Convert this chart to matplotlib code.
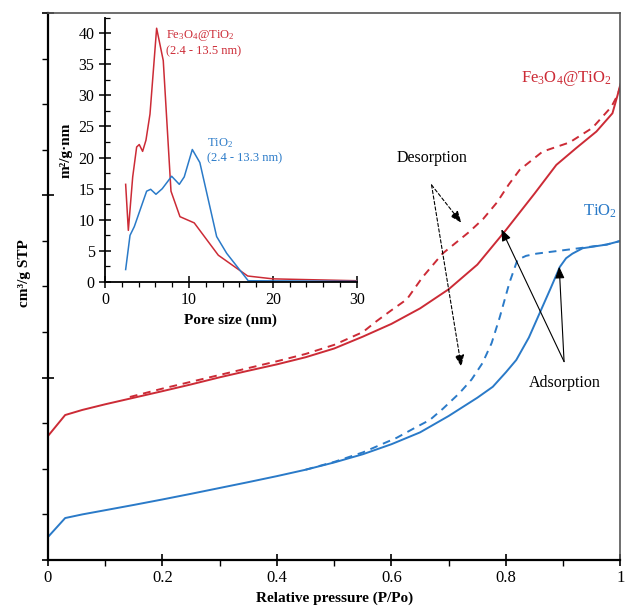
import matplotlib
matplotlib.use('Agg')
import matplotlib.pyplot as plt
from matplotlib.ticker import MultipleLocator

plt.rcParams['font.family'] = ['Liberation Serif', 'DejaVu Serif']
plt.rcParams['mathtext.fontset'] = 'custom'
plt.rcParams['mathtext.rm'] = 'Liberation Serif'
plt.rcParams['mathtext.it'] = 'Liberation Serif:italic'
plt.rcParams['mathtext.bf'] = 'Liberation Serif:bold'
plt.rcParams['mathtext.default'] = 'regular'

RED = '#cc2b36'
BLUE = '#2a7ac8'

# isotherms (relative pressure, volume in arbitrary units)
fe_ads_x = [0.0, 0.0, 0.03, 0.06, 0.1, 0.15, 0.2, 0.25, 0.3, 0.35, 0.4, 0.45, 0.5,
            0.55, 0.6, 0.65, 0.7, 0.75, 0.8, 0.85, 0.888, 0.923, 0.958, 0.986, 0.995, 1.0]
fe_ads_y = [51, 68, 79.5, 82.3, 85.4, 89.0, 92.6, 96.3, 100.2, 103.8, 107.3, 111.2, 116,
            122.5, 129.5, 138, 148.5, 162, 181, 201, 216.7, 226, 235, 245, 255, 261]
fe_des_x = [0.143, 0.2, 0.3, 0.4, 0.45, 0.5, 0.55, 0.574, 0.6, 0.627, 0.654, 0.689,
            0.736, 0.76, 0.784, 0.805, 0.824, 0.864, 0.911, 0.951, 0.984, 0.995, 1.0]
fe_des_y = [89.4, 94, 101.5, 109, 113, 118, 125, 131, 137, 143, 155, 168,
            180, 187, 196, 206, 214, 224, 229, 237, 248.5, 255, 260]

ti_ads_x = [0.0, 0.0, 0.03, 0.06, 0.1, 0.15, 0.2, 0.25, 0.3, 0.35, 0.4, 0.45, 0.5,
            0.55, 0.6, 0.65, 0.7, 0.75, 0.777, 0.8, 0.818, 0.84, 0.859, 0.878, 0.894,
            0.905, 0.916, 0.934, 0.976, 1.0]
ti_ads_y = [0, 12.6, 23, 25, 27.3, 30.2, 33.2, 36.3, 39.5, 42.7, 46, 49.5, 53.5,
            58, 63.5, 70, 79, 89, 95, 103, 109.7, 122, 135.5, 149, 160.7,
            165.5, 168, 171, 173, 175]
ti_des_x = [0.45, 0.5, 0.55, 0.609, 0.644, 0.667, 0.69, 0.719, 0.74, 0.759, 0.775,
            0.789, 0.806, 0.82, 0.835, 0.853, 0.928, 0.976, 1.0]
ti_des_y = [49.5, 53.8, 59, 67, 73, 76.8, 83, 91.6, 99, 108, 119,
            133, 152, 164.6, 166.8, 168, 171, 173, 175]

# pore size distribution
fe_pore_x = [2.46, 2.78, 3.3, 3.77, 4.08, 4.48, 4.88, 5.36, 6.15, 6.94, 7.86,
             8.93, 10.63, 13.5, 17.0, 20.0, 30.0]
fe_pore_y = [15.7, 8.3, 16.9, 21.7, 22.1, 21.0, 22.8, 27.0, 40.8, 35.6, 14.6,
             10.5, 9.5, 4.3, 0.96, 0.5, 0.2]
ti_pore_x = [2.46, 2.98, 3.49, 4.96, 5.44, 6.07, 6.82, 7.94, 8.85, 9.44, 10.4,
             11.3, 13.3, 14.5, 17.06, 30.0]
ti_pore_y = [2.0, 7.5, 8.9, 14.6, 14.9, 14.1, 15.0, 17.0, 15.7, 16.9, 21.3,
             19.2, 7.3, 4.6, 0.2, 0.1]

fig = plt.figure(figsize=(6.28, 6.11), dpi=100)
ax = fig.add_axes([0.0764, 0.0835, 0.9116, 0.8952])

ax.plot(fe_ads_x, fe_ads_y, color=RED, lw=1.4)
ax.plot(fe_des_x, fe_des_y, color=RED, lw=1.4, ls=(0, (4, 3)))
ax.plot(ti_ads_x, ti_ads_y, color=BLUE, lw=1.4)
ax.plot(ti_des_x, ti_des_y, color=BLUE, lw=1.4, ls=(0, (4, 3)))

ax.set_xlim(0, 1)
ax.set_ylim(0, 300)
ax.xaxis.set_minor_locator(MultipleLocator(0.1))
ax.yaxis.set_major_locator(MultipleLocator(100))
ax.yaxis.set_minor_locator(MultipleLocator(25))
ax.set_xticks([0, 0.2, 0.4, 0.6, 0.8, 1.0])
ax.set_xticklabels(['0', '0.2', '0.4', '0.6', '0.8', '1'])
ax.set_yticklabels([])
ax.tick_params(which='major', direction='inout', length=8, width=1.2, labelsize=12)
ax.tick_params(which='minor', direction='out', length=4, width=1)
for s in ['left', 'bottom']:
    ax.spines[s].set_linewidth(1.6)
for s in ['top', 'right']:
    ax.spines[s].set_color('#555555')
    ax.spines[s].set_linewidth(1.2)
ax.set_xlabel('Relative pressure (P/Po)', fontsize=11, fontweight='bold', labelpad=4)
ax.set_ylabel('cm³/g STP', fontsize=11, fontweight='bold')
ax.yaxis.set_label_coords(-0.03, 0.525)

ax.text(0.906, 264, r'Fe$_3$O$_4$@TiO$_2$', color=RED, fontsize=12, ha='center', va='center')
ax.text(0.964, 191, r'TiO$_2$', color=BLUE, fontsize=12, ha='center', va='center')
ax.text(0.670, 220.5, 'Desorption', fontsize=11.5, ha='center', va='center')
ax.text(0.903, 97.1, 'Adsorption', fontsize=11.5, ha='center', va='center')

dash_arrow = dict(arrowstyle='-|>,head_length=0.7,head_width=0.28', color='black',
                  lw=0.8, ls=(0, (3, 2)), shrinkA=0, shrinkB=0)
ax.annotate('', xy=(0.722, 185), xytext=(0.670, 205.7), arrowprops=dash_arrow)
ax.annotate('', xy=(0.722, 106), xytext=(0.670, 205.7), arrowprops=dash_arrow)
solid_arrow = dict(arrowstyle='-|>,head_length=0.7,head_width=0.28', color='black',
                   lw=0.8, shrinkA=0, shrinkB=0)
ax.annotate('', xy=(0.792, 181.4), xytext=(0.9015, 108.8), arrowprops=solid_arrow)
ax.annotate('', xy=(0.893, 160.9), xytext=(0.9015, 108.8), arrowprops=solid_arrow)

# inset
ins = fig.add_axes([0.1672, 0.5385, 0.401, 0.4326])
ins.plot(fe_pore_x, fe_pore_y, color=RED, lw=1.1)
ins.plot(ti_pore_x, ti_pore_y, color=BLUE, lw=1.1)
ins.set_xlim(0, 30)
ins.set_ylim(0, 42.5)
ins.xaxis.set_major_locator(MultipleLocator(10))
ins.xaxis.set_minor_locator(MultipleLocator(2))
ins.yaxis.set_major_locator(MultipleLocator(5))
ins.yaxis.set_minor_locator(MultipleLocator(2.5))
ins.tick_params(which='major', direction='inout', length=8, width=1.1, labelsize=11.5)
ins.tick_params(which='minor', length=3.5, width=0.9)
ins.tick_params(axis='x', which='minor', direction='out')
ins.tick_params(axis='y', which='minor', direction='in')
ins.spines['top'].set_visible(False)
ins.spines['right'].set_visible(False)
ins.spines['left'].set_linewidth(1.3)
ins.spines['bottom'].set_linewidth(1.3)
ins.patch.set_alpha(0)
ins.set_xlabel('Pore size (nm)', fontsize=11, fontweight='bold', labelpad=4)
ins.set_ylabel('m²/g·nm', fontsize=11, fontweight='bold', labelpad=4)
ins.text(7.3, 38.5, 'Fe$_3$O$_4$@TiO$_2$\n(2.4 - 13.5 nm)', color=RED, fontsize=9,
         ha='left', va='center', linespacing=1.2)
ins.text(12.1, 21.2, 'TiO$_2$\n(2.4 - 13.3 nm)', color=BLUE, fontsize=9,
         ha='left', va='center', linespacing=1.2)

fig.savefig('out.png', dpi=100)
